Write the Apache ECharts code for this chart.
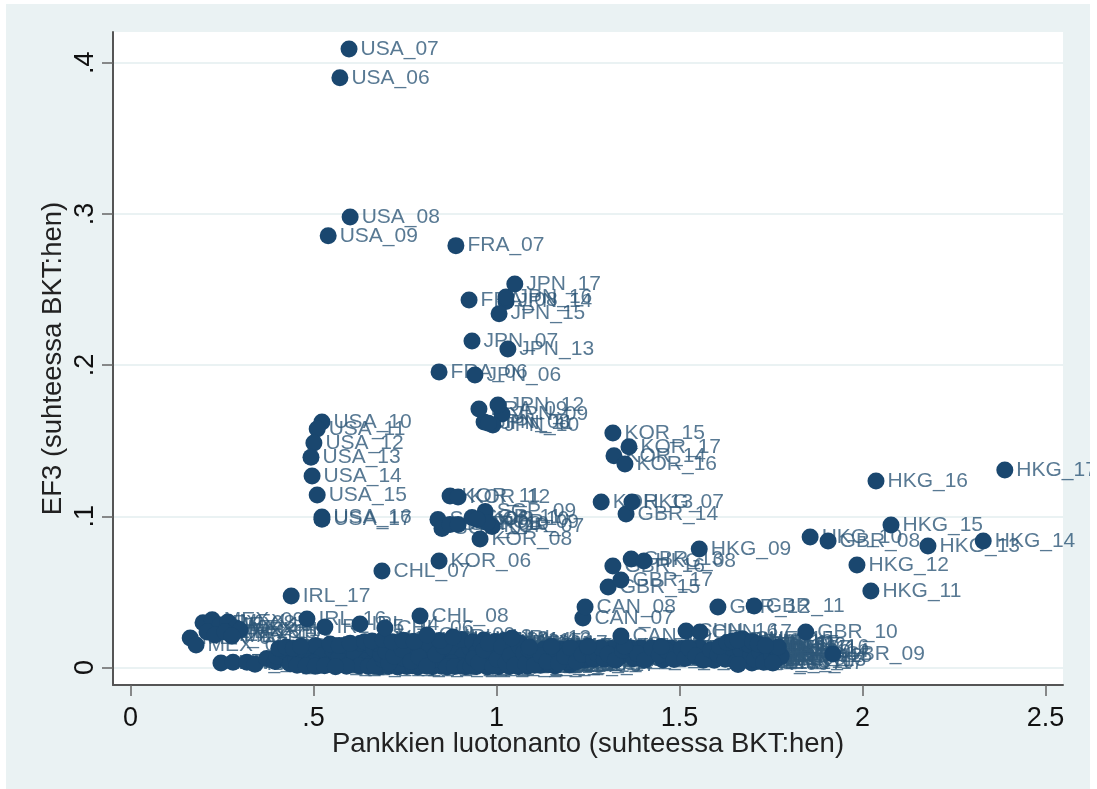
<!DOCTYPE html>
<html><head><meta charset="utf-8">
<style>html,body{margin:0;padding:0;background:#fff;overflow:hidden}
#chart{position:absolute;left:6px;top:4px;width:1084px;height:785px;filter:blur(0.5px)}</style>
<script src="https://cdn.jsdelivr.net/npm/echarts@6/dist/echarts.min.js"></script>
</head><body><div id="chart"></div>
<script>
// [year, bank lending / GDP, EF3 / GDP]
const USA=[[6,.572,.390],[7,.597,.409],[8,.600,.298],[9,.540,.2855],[10,.523,.1624],[11,.510,.1577],[12,.501,.1485],[13,.493,.139],[14,.496,.1267],[15,.510,.114],[16,.523,.0995],[17,.523,.098]];
const FRA=[[6,.843,.1955],[7,.889,.279],[8,.925,.243],[9,.952,.171]];
const JPN=[[6,.941,.1935],[7,.933,.216],[8,.966,.1624],[9,1.015,.1677],[10,.990,.1604],[11,.978,.1615],[12,1.004,.1736],[13,1.031,.2106],[14,1.026,.242],[15,1.007,.234],[16,1.026,.245],[17,1.05,.2536]];
const KOR=[[6,.843,.0704],[7,.988,.0932],[8,.955,.085],[9,.974,.0959],[10,.947,.0979],[11,.873,.1134],[12,.895,.1128],[13,1.286,.1095],[14,1.321,.14],[15,1.318,.155],[16,1.351,.1346],[17,1.362,.146]];
const SGP=[[6,.840,.0979],[7,.851,.0919],[8,.873,.0946],[10,.895,.0946],[11,.933,.0992],[9,.969,.1032]];
const HKG=[[7,1.37,.1095],[8,1.403,.0704],[9,1.554,.0784],[10,1.857,.0863],[11,2.023,.0506],[12,1.985,.0678],[13,2.179,.0804],[14,2.33,.0837],[15,2.078,.0942],[16,2.037,.1233],[17,2.389,.1306]];
const GBR=[[8,1.906,.0837],[9,1.919,.0089],[10,1.845,.0235],[11,1.704,.0407],[12,1.605,.04],[13,1.368,.0717],[14,1.354,.1015],[15,1.305,.0532],[16,1.318,.0671],[17,1.34,.0579]];
const CAN=[[7,1.236,.0327],[8,1.242,.04],[9,1.34,.0208]];
const CHN=[[16,1.518,.0241],[17,1.556,.0235]];
const CHL=[[6,.695,.0261],[7,.687,.0638],[8,.791,.034],[9,.81,.0215]];
const IRL=[[12,.881,.0202],[13,1.042,.0195],[14,.627,.0288],[15,.531,.0268],[16,.482,.032],[17,.439,.0473]];
const MEX=[[6,.163,.0195],[7,.179,.0149],[8,.198,.0295],[9,.223,.0315],[10,.245,.0281],[11,.266,.0301],[12,.288,.0261],[13,.209,.0235],[14,.231,.0215],[15,.258,.0235],[16,.299,.0248],[17,.277,.0208]];
const IDN=[[6,.247,.0030],[7,.280,.0035],[8,.318,.0035],[9,.340,.0022],[10,.372,.0060],[11,.395,.0040],[12,.412,.0078],[13,.428,.0052],[14,.445,.0098],[15,.462,.0030],[16,.478,.0070],[17,.492,.0110]];
const PHL=[[6,.470,.0112],[7,.492,.0040],[8,.505,.0145],[9,.523,.0076],[10,.540,.0020],[11,.552,.0118],[12,.568,.0058],[13,.584,.0146],[14,.600,.0026],[15,.612,.0092],[16,.628,.0160],[17,.644,.0042]];
const TUR=[[6,.400,.0072],[7,.418,.0110],[8,.436,.0025],[9,.452,.0060],[10,.486,.0085],[11,.512,.0012],[12,.534,.0128],[13,.558,.0025],[14,.576,.0098],[15,.594,.0062],[16,.618,.0128],[17,.650,.0090]];
const POL=[[6,.668,.0010],[7,.690,.0052],[8,.712,.0135],[9,.735,.0022],[10,.760,.0095],[11,.782,.0160],[12,.805,.0035],[13,.828,.0120],[14,.850,.0008],[15,.872,.0068],[16,.895,.0155],[17,.920,.0040]];
const CZE=[[6,.664,.0125],[7,.684,.0085],[8,.706,.0030],[9,.726,.0158],[10,.748,.0060],[11,.770,.0012],[12,.794,.0105],[13,.816,.0150],[14,.840,.0055],[15,.862,.0015],[16,.884,.0110],[17,.908,.0075]];
const HUN=[[6,.674,.0160],[7,.698,.0105],[8,.720,.0075],[9,.742,.0120],[10,.766,.0040],[11,.788,.0070],[12,.810,.0008],[13,.834,.0085],[14,.856,.0140],[15,.878,.0030],[16,.902,.0010],[17,.928,.0130]];
const ZAF=[[6,.930,.0012],[7,.946,.0098],[8,.958,.0150],[9,.970,.0045],[10,.984,.0072],[11,.996,.0128],[12,1.008,.0018],[13,1.020,.0088],[14,1.032,.0155],[15,1.044,.0035],[16,1.056,.0108],[17,1.068,.0062]];
const NOR=[[6,.938,.0060],[7,.952,.0030],[8,.966,.0115],[9,.978,.0160],[10,.990,.0008],[11,1.002,.0055],[12,1.014,.0138],[13,1.026,.0030],[14,1.038,.0080],[15,1.050,.0015],[16,1.062,.0140],[17,1.074,.0095]];
const ITA=[[6,1.080,.0025],[7,1.098,.0100],[8,1.114,.0050],[9,1.130,.0122],[10,1.146,.0020],[11,1.162,.0082],[12,1.178,.0120],[13,1.194,.0040],[14,1.210,.0095],[15,1.226,.0125],[16,1.242,.0050],[17,1.258,.0100]];
const ESP=[[6,1.088,.0120],[7,1.104,.0015],[8,1.122,.0078],[9,1.138,.0040],[10,1.154,.0128],[11,1.170,.0028],[12,1.186,.0072],[13,1.202,.0130],[14,1.218,.0038],[15,1.234,.0085],[16,1.250,.0128],[17,1.266,.0055]];
const AUS=[[6,1.275,.0090],[7,1.295,.0055],[8,1.315,.0125],[9,1.335,.0068],[10,1.355,.0100],[11,1.375,.0058],[12,1.395,.0130],[13,1.415,.0070],[14,1.435,.0105],[15,1.455,.0050],[16,1.475,.0128],[17,1.495,.0080]];
const NLD=[[6,1.285,.0130],[7,1.305,.0088],[8,1.325,.0048],[9,1.345,.0112],[10,1.365,.0130],[11,1.385,.0090],[12,1.405,.0048],[13,1.425,.0128],[14,1.445,.0082],[15,1.465,.0110],[16,1.485,.0052],[17,1.505,.0125]];
const CHE=[[6,1.515,.0060],[7,1.535,.0105],[8,1.555,.0130],[9,1.575,.0070],[10,1.595,.0048],[11,1.615,.0120],[12,1.635,.0085],[13,1.650,.0150],[14,1.662,.0060],[15,1.672,.0190],[16,1.685,.0105],[17,1.698,.0030]];
const SWE=[[6,1.525,.0130],[7,1.545,.0075],[8,1.565,.0048],[9,1.585,.0115],[10,1.605,.0085],[11,1.625,.0055],[12,1.642,.0130],[13,1.655,.0035],[14,1.668,.0115],[15,1.680,.0160],[16,1.695,.0080],[17,1.710,.0125]];
const DNK=[[6,1.660,.0020],[7,1.690,.0150],[8,1.705,.0055],[9,1.720,.0100],[10,1.730,.0035],[11,1.742,.0130],[12,1.752,.0075],[13,1.762,.0050],[14,1.770,.0105],[15,1.778,.0075],[16,1.770,.0135],[17,1.755,.0030]];
const LUX=[[6,.660,.0175],[7,.690,.0185],[8,.715,.0170],[9,.745,.0180],[10,.775,.0172],[11,.845,.0178],[12,.905,.0185],[13,.935,.0170],[14,.965,.0182],[15,.995,.0172],[16,1.02,.0178],[17,1.065,.0160]];
const PRT=[[6,.405,.0125],[7,.425,.0135],[8,.445,.0125],[9,.465,.0140],[10,.500,.0030],[11,.545,.0155],[12,.570,.0145],[13,.600,.0160],[14,.640,.0170],[15,.660,.0030],[16,.625,.0010],[17,.590,.0008]];
const AUT=[[6,.455,.0015],[7,.480,.0010],[8,.505,.0008],[9,.530,.0012],[10,.560,.0005],[11,.650,.0006],[12,.680,.0004],[13,.705,.0008],[14,.730,.0003],[15,.755,.0006],[16,.785,.0003],[17,.825,.0005]];
const BEL=[[6,.865,.0003],[7,.885,.0006],[8,.915,.0004],[9,.945,.0006],[10,.975,.0003],[11,1.005,.0005],[12,1.035,.0006],[13,1.060,.0004],[14,1.085,.0008],[15,1.120,.0015],[16,1.160,.0010],[17,1.200,.0018]];
const FIN=[[6,1.610,.0140],[7,1.630,.0165],[8,1.645,.0175],[9,1.660,.0182],[10,1.700,.0170],[11,1.715,.0155],[12,1.735,.0145],[13,1.090,.0135],[14,1.150,.0140],[15,1.250,.0140],[16,1.350,.0140],[17,1.450,.0138]];
const xTicks=[0,.5,1,1.5,2,2.5];
const yTicks=[0,.1,.2,.3,.4];
const xTitle='Pankkien luotonanto (suhteessa BKT:hen)';
const yTitle='EF3 (suhteessa BKT:hen)';

const groups={MEX,IDN,TUR,PHL,PRT,AUT,POL,CZE,HUN,LUX,BEL,ZAF,NOR,ITA,ESP,AUS,NLD,CHE,SWE,DNK,FIN,IRL,CHL,CHN,CAN,GBR,HKG,SGP,KOR,JPN,FRA,USA};
const points=[];
for(const code in groups){for(const p of groups[code]){
  points.push({name:code+'_'+String(p[0]).padStart(2,'0'),value:[p[1],p[2]]});
}}
const fmt=v=>String(v).replace(/^0\./,'.');
const axisLine={show:true,onZero:false,lineStyle:{color:'#555555',width:2}};
const tick=(vals)=>({show:true,length:11,customValues:vals,lineStyle:{color:'#666666',width:1.5}});
const chart=echarts.init(document.getElementById('chart'),null,{renderer:'canvas'});
chart.setOption({
  animation:false,
  backgroundColor:'#eaf2f3',
  textStyle:{fontFamily:'Liberation Sans'},
  grid:{left:107,right:27,top:28,bottom:104,show:true,backgroundColor:'#ffffff',borderWidth:0},
  xAxis:{type:'value',min:-0.048,max:2.548,
    name:xTitle,nameLocation:'middle',nameGap:45,nameMoveOverlap:false,
    nameTextStyle:{color:'#222',fontSize:27.5,fontFamily:'Liberation Sans'},
    axisLine,axisTick:tick(xTicks),splitLine:{show:false},
    axisLabel:{customValues:xTicks,formatter:fmt,color:'#111',fontSize:27,margin:20,fontFamily:'Liberation Sans'}},
  yAxis:{type:'value',min:-0.0116,max:0.4203,
    name:yTitle,nameLocation:'middle',nameGap:46,nameMoveOverlap:false,
    nameTextStyle:{color:'#222',fontSize:27.5,fontFamily:'Liberation Sans'},
    axisLine,axisTick:tick(yTicks),
    splitLine:{show:true,lineStyle:{color:'#eaf2f3',width:2}},
    axisLabel:{customValues:yTicks,formatter:fmt,rotate:90,color:'#111',fontSize:27,margin:14,fontFamily:'Liberation Sans'}},
  series:[
   {type:'scatter',z:1,data:points,symbol:'circle',symbolSize:1,silent:true,
    itemStyle:{color:'rgba(0,0,0,0)'},
    label:{show:true,position:'right',distance:11,formatter:'{b}',color:'#2e5878',fontSize:21,fontFamily:'Liberation Sans'},
    labelLayout:{hideOverlap:false}},
   {type:'scatter',z:2,data:points,symbol:'circle',symbolSize:17,silent:true,
    itemStyle:{color:'#1a476f',opacity:1},label:{show:false}}]
});
</script></body></html>
